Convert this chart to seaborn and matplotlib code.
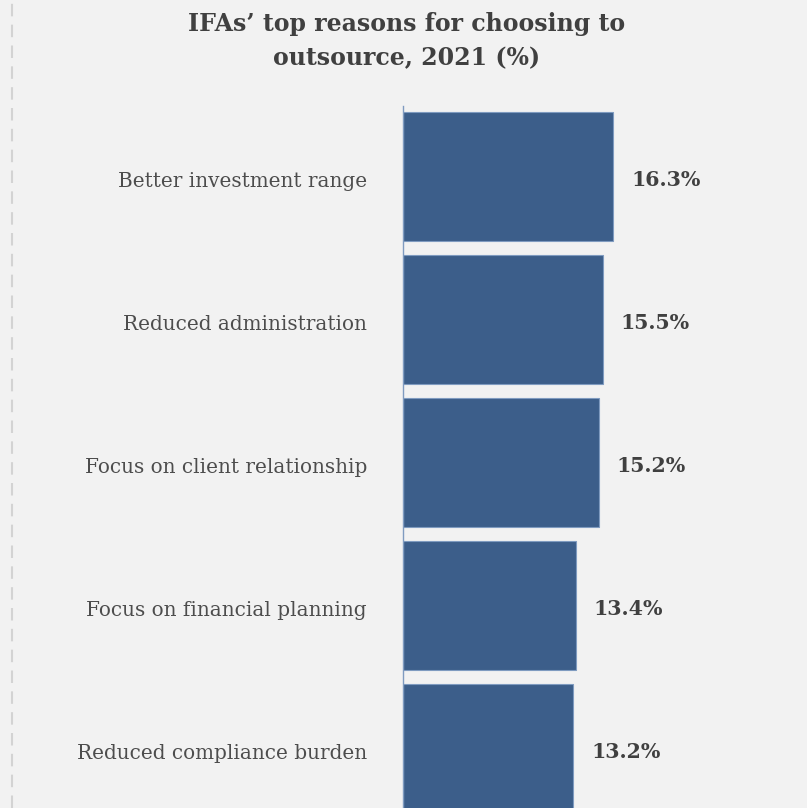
import matplotlib
matplotlib.use("Agg")
import matplotlib.pyplot as plt
import matplotlib.lines as mlines
import matplotlib.transforms as mtransforms
import seaborn as sns
import pandas as pd

# Survey results
reasons = [
    "Better investment range",
    "Reduced administration",
    "Focus on client relationship",
    "Focus on financial planning",
    "Reduced compliance burden",
]
shares = [16.3, 15.5, 15.2, 13.4, 13.2]

title_lines = ["IFAs\u2019 top reasons for choosing to", "outsource, 2021 (%)"]

BG = "#f2f2f2"
BAR = "#3c5e8a"
TEXT = "#4d4d4d"

sns.set_theme(style="white")
plt.rcParams["font.family"] = ["DejaVu Serif"]

df = pd.DataFrame({"reason": reasons, "share": shares})

fig = plt.figure(figsize=(8.07, 8.08), dpi=100)
fig.patch.set_facecolor(BG)

W, H = 807, 808
ax = fig.add_axes([403 / W, 0, (W - 403) / W, (H - 106) / H])
ax.set_facecolor(BG)

sns.barplot(data=df, x="share", y="reason", orient="h", color=BAR,
            width=0.9, saturation=1, edgecolor="#7f9bc0", linewidth=0.8, ax=ax)

ax.set_xlim(0, (W - 403) / 12.88)
ax.set_ylim(4.416, -0.493)

for s in ["top", "right", "bottom"]:
    ax.spines[s].set_visible(False)
ax.spines["left"].set_color("#7f9bc0")
ax.spines["left"].set_linewidth(1.0)

ax.set_xticks([])
ax.set_xlabel("")
ax.set_ylabel("")
ax.tick_params(axis="y", length=0, pad=26, labelsize=14.4, labelcolor=TEXT)

# nudge category labels a few pixels down so they sit on the bar centre
nudge = mtransforms.ScaledTranslation(0, -3 / 100, fig.dpi_scale_trans)
for lbl in ax.get_yticklabels():
    lbl.set_transform(lbl.get_transform() + nudge)

texts = ax.bar_label(ax.containers[0], labels=[f"{v:.1f}%" for v in shares],
                     padding=13, fontsize=14.8, fontweight="bold", color="#404040")
for t in texts:
    t.xyann = (13, -2.6)

for line, base in zip(title_lines, [31, 65]):
    fig.text(407 / W, 1 - base / H, line, ha="center", va="baseline",
             fontsize=17, fontweight="bold", color="#404040")

# dashed guide on the left edge
fig.add_artist(mlines.Line2D([12 / W, 12 / W], [0, 1], transform=fig.transFigure,
                             color="#d3d3d3", linewidth=1.5, linestyle=(0, (6, 4))))

fig.savefig("out.png", dpi=100, facecolor=BG)
